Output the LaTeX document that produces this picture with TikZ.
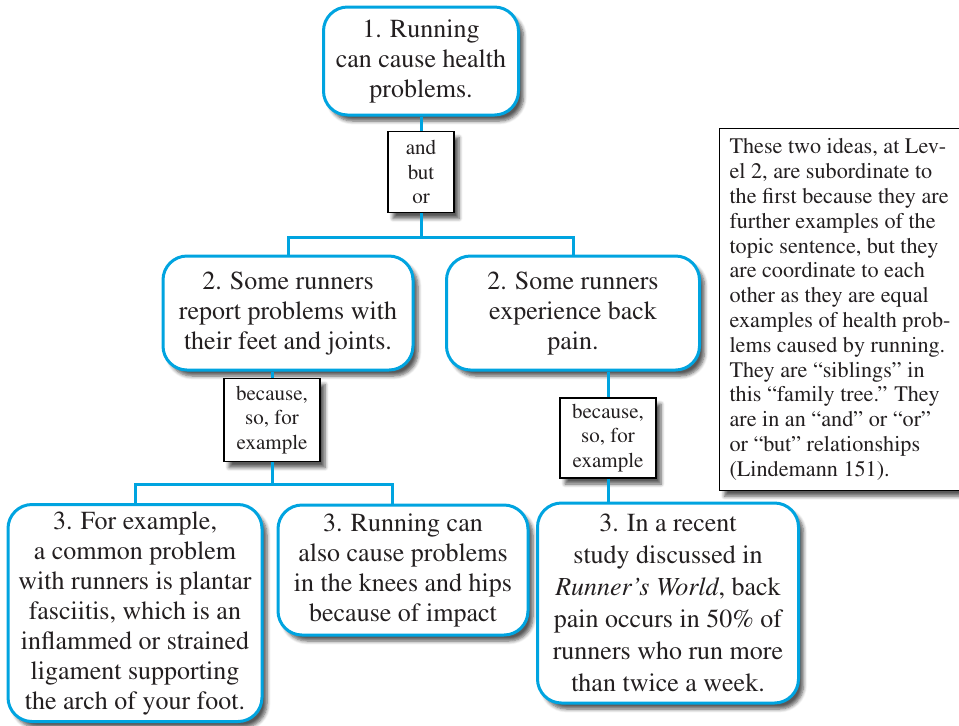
\documentclass[tikz,border=0pt]{standalone}
\usepackage[T1]{fontenc}
\usepackage{mathptmx}
\usetikzlibrary{positioning, shadows.blur}
\definecolor{mapblue}{RGB}{0,164,224}
\definecolor{inkgray}{RGB}{35,31,32}

\begin{document}
\begin{tikzpicture}[x=0.5pt, y=-0.5pt, text=inkgray]
\tikzstyle{idea}=[draw=mapblue, line width=1.5pt, fill=white, rounded corners=12pt, align=center, inner sep=2pt, font=\fontsize{13}{15}\selectfont, blur shadow={shadow xshift=2.5pt, shadow yshift=-3pt, shadow blur steps=6, shadow opacity=65}]
\tikzstyle{link}=[draw=black, line width=0.6pt, fill=white, align=center, inner sep=2pt, font=\fontsize{10.5}{12.25}\selectfont, blur shadow={shadow xshift=2.5pt, shadow yshift=-3pt, shadow blur steps=6, shadow opacity=65}]
\tikzstyle{conn}=[draw=mapblue, line width=1.5pt]
\useasboundingbox (0,0) rectangle (959,725);
\node[idea, minimum width=97.5pt, minimum height=54pt] (b1) at (421,61) {1. Running\\can cause health\\problems.};
\node[link, minimum width=33pt, minimum height=40.5pt] (l1) at (421,172) {and\\but\\or};
\node[idea, minimum width=125pt, minimum height=57pt] (b2a) at (288,313) {2. Some runners\\report problems with\\their feet and joints.};
\node[idea, minimum width=126.5pt, minimum height=57pt] (b2b) at (573,313) {2. Some runners\\experience back\\pain.};
\node[link, minimum width=48pt, minimum height=41.5pt] (l2a) at (272,420) {because,\\so, for\\example};
\node[link, minimum width=48pt, minimum height=40pt] (l2b) at (608,438) {because,\\so, for\\example};
\node[idea, minimum width=127pt, minimum height=108.5pt] (b3a) at (135,613) {3. For example,\\a common problem\\with runners is plantar\\fasciitis, which is an\\inflammed or strained\\ligament supporting\\the arch of your foot.};
\node[idea, minimum width=125pt, minimum height=65pt] (b3b) at (403,570) {3. Running can\\also cause problems\\in the knees and hips\\because of impact};
\node[idea, minimum width=130.5pt, minimum height=100pt, font=\fontsize{13}{16}\selectfont] (b3c) at (668,603) {3. In a recent\\study discussed in\\\textit{Runner's World}, back\\pain occurs in 50\% of\\runners who run more\\than twice a week.};
\node[link, minimum width=117pt, minimum height=177.5pt, align=left, inner sep=5pt, font=\fontsize{11.1}{12.4}\selectfont] (note) at (840,309.5) {These two ideas, at Lev-\\el 2, are subordinate to\\the first because they are\\further examples of the\\topic sentence, but they\\are coordinate to each\\other as they are equal\\examples of health prob-\\lems caused by running.\\They are ``siblings'' in\\this ``family tree.'' They\\are in an ``and'' or ``or''\\or ``but'' relationships\\(Lindemann 151).};
\coordinate (j1) at (421,237);
\coordinate (j2) at (272,484);
\draw[conn] (b1.south) -- (l1.north);
\draw[conn] (l1.south) -- (j1);
\draw[conn] (b2a.north) |- (j1) -| (b2b.north);
\draw[conn] (l2a.north |- b2a.south) -- (l2a.north);
\draw[conn] (l2a.south) -- (j2);
\draw[conn] (b3a.north) |- (j2) -| ([xshift=-5.5pt]b3b.north);
\draw[conn] (l2b.north |- b2b.south) -- (l2b.north);
\draw[conn] (l2b.south) -- (l2b.south |- b3c.north);
\end{tikzpicture}
\end{document}
